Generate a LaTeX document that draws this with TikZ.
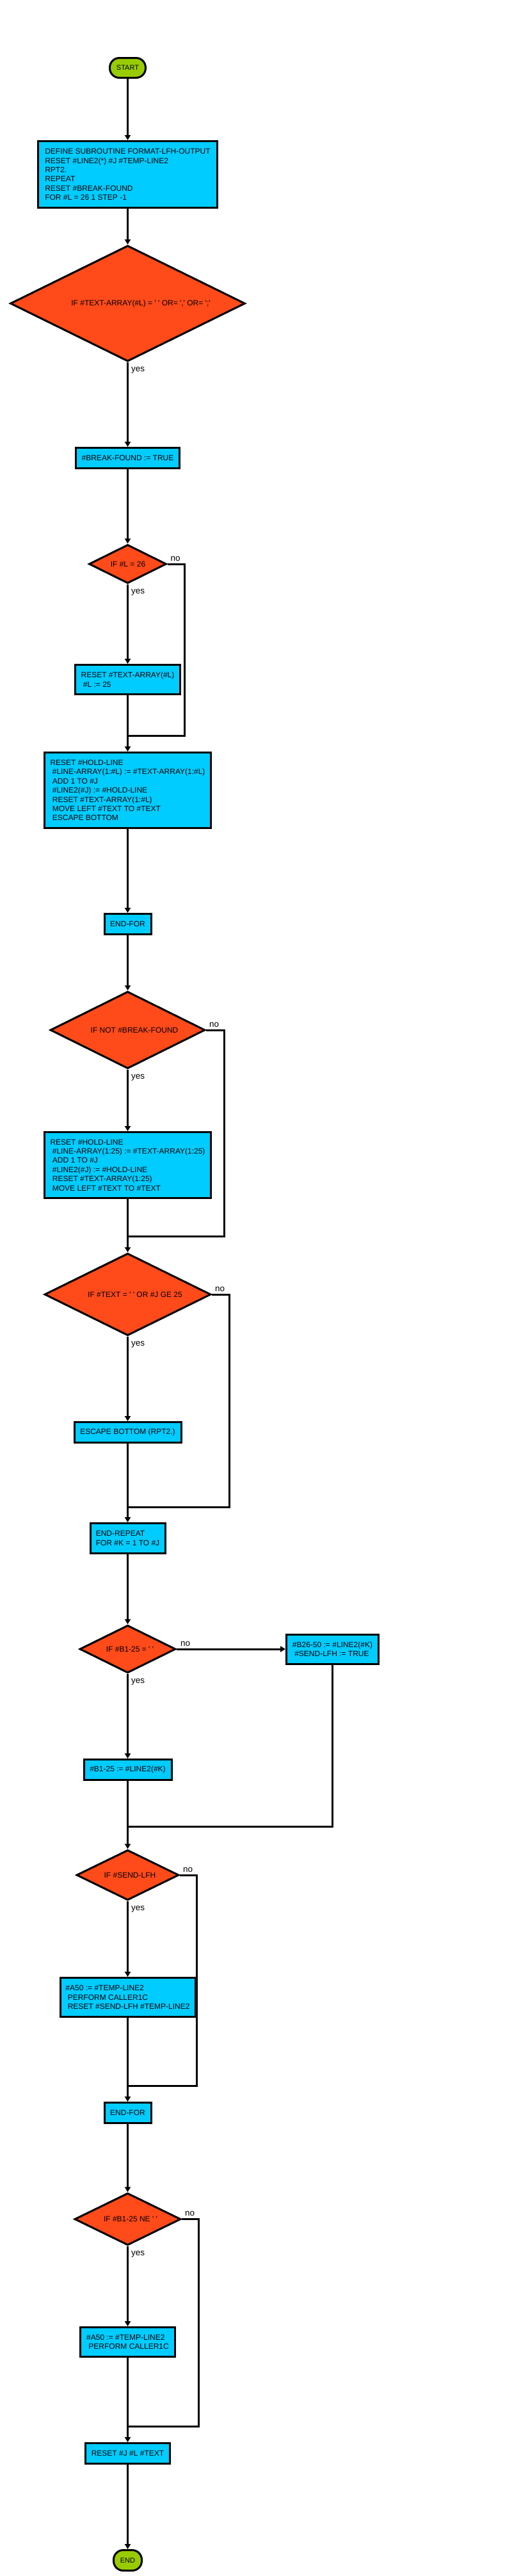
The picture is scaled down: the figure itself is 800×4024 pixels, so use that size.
\documentclass[tikz,border=0pt]{standalone}
\usepackage{fontspec}
\setmainfont{Liberation Sans}
\usetikzlibrary{shapes.geometric,arrows.meta}
\definecolor{boxcyan}{HTML}{00CCFF}
\definecolor{decorange}{HTML}{FF4A1A}
\definecolor{termgreen}{HTML}{99CC00}
\newcommand\sq{\textquotesingle}
\newcommand\ind{\hspace*{3.33pt}}
\begin{document}
\begin{tikzpicture}[x=1pt,y=-1pt,
  txt/.style={font=\fontsize{12}{14.4}\selectfont},
  proc/.style={rectangle, draw=black, line width=3pt, fill=boxcyan, inner sep=0pt, align=left, txt},
  dec/.style={diamond, draw=black, line width=3pt, fill=decorange, inner sep=0pt},
  dtxt/.style={txt, inner sep=0pt},
  term/.style={rectangle, rounded corners=15pt, draw=black, line width=3pt, fill=termgreen, inner sep=0pt, font=\fontsize{11}{13}\selectfont},
  conn/.style={line width=3pt, -{Triangle[length=8pt,width=9pt]}},
  plain/.style={line width=3pt},
  lab/.style={font=\fontsize{13.5}{16}\selectfont, inner sep=0pt, anchor=base west}
]
\fill[white] (0,0) rectangle (800,4024);
\useasboundingbox (0,0) rectangle (800,4024);

% nodes
\node[term, minimum width=56pt, minimum height=31pt] (start) at (199.5,106) {START};
\node[proc, minimum width=280pt, minimum height=104pt] (b1) at (199.5,272.5)
  {DEFINE SUBROUTINE FORMAT-LFH-OUTPUT\\RESET \#LINE2(*) \#J \#TEMP-LINE2\\RPT2.\\REPEAT\\RESET \#BREAK-FOUND\\FOR \#L = 26 1 STEP -1};
\node[dec, minimum width=367pt, minimum height=181pt] (d1) at (199.5,474) {};
\node[dtxt] (d1t) at (220,474) {IF \#TEXT-ARRAY(\#L) = \sq{} \sq{} OR= \sq{},\sq{} OR= \sq{};\sq{}};
\node[proc, minimum width=162pt, minimum height=32pt] (b2) at (199.5,715.5) {\#BREAK-FOUND := TRUE};
\node[dec, minimum width=121pt, minimum height=60.5pt] (d2) at (199.5,881) {};
\node[dtxt] (d2t) at (200,881) {IF \#L = 26};
\node[proc, minimum width=164pt, minimum height=46pt] (b3) at (199.5,1061.5) {RESET \#TEXT-ARRAY(\#L)\\\ind\#L := 25};
\node[proc, minimum width=260pt, minimum height=118pt] (b4) at (199.5,1234.5)
  {RESET \#HOLD-LINE\\\ind\#LINE-ARRAY(1:\#L) := \#TEXT-ARRAY(1:\#L)\\\ind ADD 1 TO \#J\\\ind\#LINE2(\#J) := \#HOLD-LINE\\\ind RESET \#TEXT-ARRAY(1:\#L)\\\ind MOVE LEFT \#TEXT TO \#TEXT\\\ind ESCAPE BOTTOM};
\node[proc, minimum width=73pt, minimum height=32pt] (ef1) at (199.5,1443.5) {END-FOR};
\node[dec, minimum width=242pt, minimum height=120.5pt] (d3) at (199.5,1609) {};
\node[dtxt] (d3t) at (210,1609) {IF NOT \#BREAK-FOUND};
\node[proc, minimum width=260pt, minimum height=103pt] (b5) at (199.5,1820)
  {RESET \#HOLD-LINE\\\ind\#LINE-ARRAY(1:25) := \#TEXT-ARRAY(1:25)\\\ind ADD 1 TO \#J\\\ind\#LINE2(\#J) := \#HOLD-LINE\\\ind RESET \#TEXT-ARRAY(1:25)\\\ind MOVE LEFT \#TEXT TO \#TEXT};
\node[dec, minimum width=260pt, minimum height=128.5pt] (d4) at (199.5,2022) {};
\node[dtxt] (d4t) at (211,2022) {IF \#TEXT = \sq{} \sq{} OR \#J GE 25};
\node[proc, minimum width=167pt, minimum height=32pt] (b6) at (199.5,2237.5) {ESCAPE BOTTOM (RPT2.)};
\node[proc, minimum width=117pt, minimum height=47pt] (b7) at (199.5,2403) {END-REPEAT\\FOR \#K = 1 TO \#J};
\node[dec, minimum width=150pt, minimum height=74.5pt] (d5) at (199.5,2576) {};
\node[dtxt] (d5t) at (203,2576) {IF \#B1-25 = \sq{} \sq{}};
\node[proc, minimum width=144pt, minimum height=46pt] (b8) at (519.5,2576) {\#B26-50 := \#LINE2(\#K)\\\ind\#SEND-LFH := TRUE};
\node[proc, minimum width=137pt, minimum height=32pt] (b9) at (199.5,2764.5) {\#B1-25 := \#LINE2(\#K)};
\node[dec, minimum width=160pt, minimum height=78.5pt] (d6) at (199.5,2929) {};
\node[dtxt] (d6t) at (203,2929) {IF \#SEND-LFH};
\node[proc, minimum width=211pt, minimum height=61pt] (b10) at (199.5,3120)
  {\#A50 := \#TEMP-LINE2\\\ind PERFORM CALLER1C\\\ind RESET \#SEND-LFH \#TEMP-LINE2};
\node[proc, minimum width=73pt, minimum height=32pt] (ef2) at (199.5,3300.5) {END-FOR};
\node[dec, minimum width=166pt, minimum height=81.5pt] (d7) at (199.5,3466.5) {};
\node[dtxt] (d7t) at (204,3466.5) {IF \#B1-25 NE \sq{} \sq{}};
\node[proc, minimum width=148pt, minimum height=46pt] (b11) at (199.5,3658.5) {\#A50 := \#TEMP-LINE2\\\ind PERFORM CALLER1C};
\node[proc, minimum width=132pt, minimum height=32pt] (b12) at (199.5,3832.5) {RESET \#J \#L \#TEXT};
\node[term, minimum width=44pt, minimum height=32pt] (stop) at (199.5,3999.5) {END};

% join coordinates
\coordinate (j1) at (199.5,1149); \coordinate (k1) at (288,1149);
\coordinate (j2) at (199.5,1931); \coordinate (k2) at (350,1931);
\coordinate (j3) at (199.5,2354); \coordinate (k3) at (358,2354);
\coordinate (j4) at (199.5,2853);
\coordinate (j5) at (199.5,3258); \coordinate (k5) at (307,3258);
\coordinate (j6) at (199.5,3790); \coordinate (k6) at (310,3790);

% connectors
\draw[conn] (start.south) -- (b1.north);
\draw[conn] (b1.south) -- (d1.north);
\draw[conn] (d1.south) -- (b2.north);
\draw[conn] (b2.south) -- (d2.north);
\draw[conn] (d2.south) -- (b3.north);
\draw[conn] (b3.south) -- (b4.north);
\draw[plain] (d2.east) -| (k1) -- (j1);
\draw[conn] (b4.south) -- (ef1.north);
\draw[conn] (ef1.south) -- (d3.north);
\draw[conn] (d3.south) -- (b5.north);
\draw[conn] (b5.south) -- (d4.north);
\draw[plain] (d3.east) -| (k2) -- (j2);
\draw[conn] (d4.south) -- (b6.north);
\draw[conn] (b6.south) -- (b7.north);
\draw[plain] (d4.east) -| (k3) -- (j3);
\draw[conn] (b7.south) -- (d5.north);
\draw[conn] (d5.east) -- (b8.west);
\draw[conn] (d5.south) -- (b9.north);
\draw[plain] (b8.south) |- (j4);
\draw[plain] (b9.south) -- (j4);
\draw[conn] (j4) -- (d6.north);
\draw[conn] (d6.south) -- (b10.north);
\draw[conn] (b10.south) -- (ef2.north);
\draw[plain] (d6.east) -| (k5) -- (j5);
\draw[conn] (ef2.south) -- (d7.north);
\draw[conn] (d7.south) -- (b11.north);
\draw[conn] (b11.south) -- (b12.north);
\draw[plain] (d7.east) -| (k6) -- (j6);
\draw[conn] (b12.south) -- (stop.north);

% branch labels
\node[lab] (y1) at ([xshift=5.5pt,yshift=-14.5pt]d1.south) {yes};
\node[lab] (y2) at ([xshift=5.5pt,yshift=-15pt]d2.south) {yes};
\node[lab] (n2) at ([xshift=5pt,yshift=5pt]d2.east) {no};
\node[lab] (y3) at ([xshift=5.5pt,yshift=-15pt]d3.south) {yes};
\node[lab] (n3) at ([xshift=5pt,yshift=5pt]d3.east) {no};
\node[lab] (y4) at ([xshift=5.5pt,yshift=-15pt]d4.south) {yes};
\node[lab] (n4) at ([xshift=5pt,yshift=5pt]d4.east) {no};
\node[lab] (y5) at ([xshift=5.5pt,yshift=-15pt]d5.south) {yes};
\node[lab] (n5) at ([xshift=6pt,yshift=5pt]d5.east) {no};
\node[lab] (y6) at ([xshift=5.5pt,yshift=-15pt]d6.south) {yes};
\node[lab] (n6) at ([xshift=5pt,yshift=5pt]d6.east) {no};
\node[lab] (y7) at ([xshift=5.5pt,yshift=-15pt]d7.south) {yes};
\node[lab] (n7) at ([xshift=5pt,yshift=5pt]d7.east) {no};
\end{tikzpicture}
\end{document}
